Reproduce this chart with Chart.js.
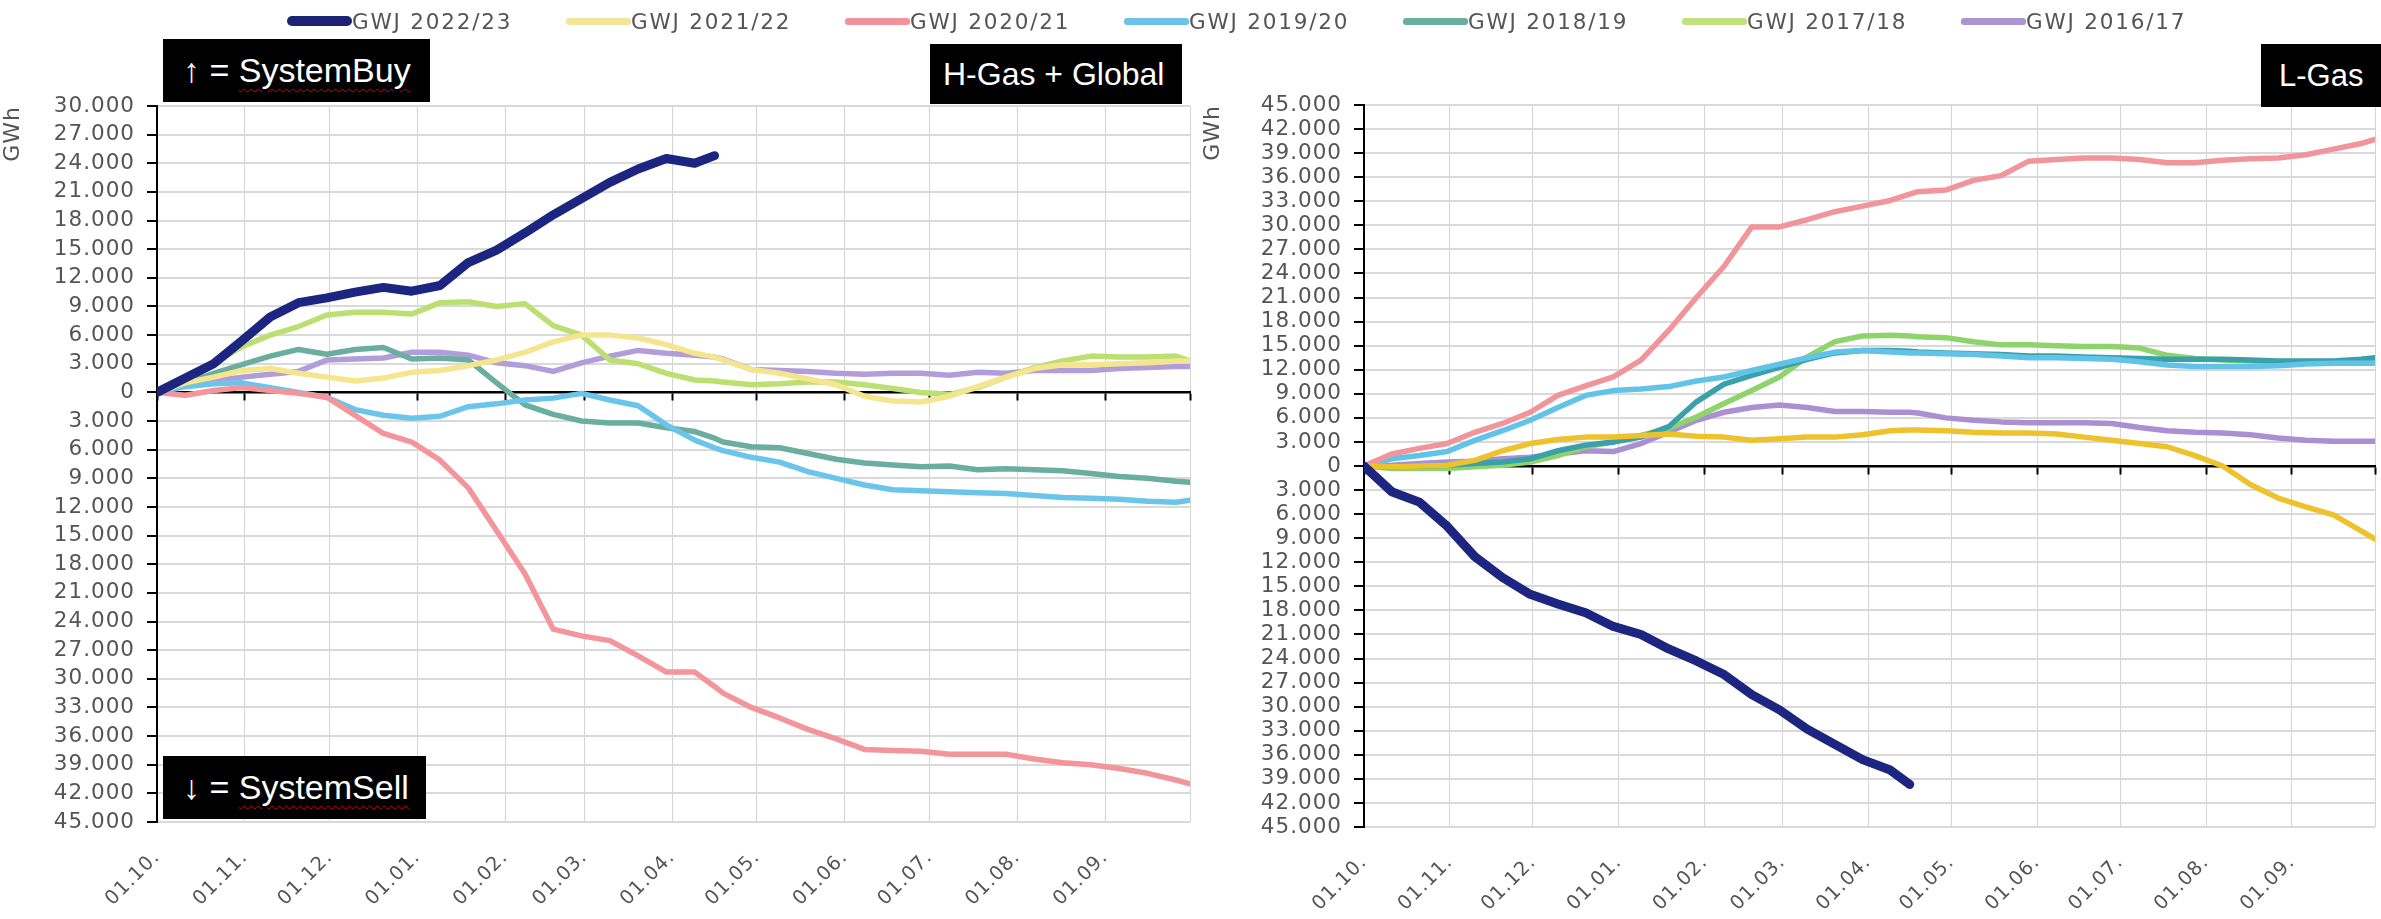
<!DOCTYPE html>
<html>
<head>
<meta charset="utf-8">
<script src="https://cdn.jsdelivr.net/npm/chart.js@4.4.0/dist/chart.umd.min.js"></script>
<style>
    html, body { margin: 0; padding: 0; background: #fff; }
    body { width: 2381px; height: 919px; position: relative; overflow: hidden; font-family: "DejaVu Sans", sans-serif; }
    .panel { position: absolute; top: 0; height: 919px; }
    #left { left: 0; width: 1200px; }
    #right { left: 1200px; width: 1181px; }
    #legend { position: absolute; left: 287px; top: 6px; display: flex; height: 30px; align-items: center; z-index: 2; }
    .item { display: flex; align-items: center; width: 279px; font-size: 21.5px; color: #555; letter-spacing: 1.8px; }
    .swatch { width: 65px; height: 7px; border-radius: 3px; }
    .tag { position: absolute; z-index: 3; background: #000; color: #fff; box-sizing: border-box;
           font-family: "Liberation Sans", Arial, sans-serif; font-size: 34px; display: flex; align-items: center; }
    .wavy { text-decoration: underline wavy #d40000; text-decoration-thickness: 1px; text-underline-offset: 6px; }
</style>
</head>
<body>
<div id="legend"></div>
<div class="panel" id="left"><canvas id="chartH"></canvas></div>
<div class="panel" id="right"><canvas id="chartL"></canvas></div>

<div class="tag" style="left:163px;top:39px;width:267px;height:63px;padding-left:20px;">↑&nbsp;=&nbsp;<span class="wavy">SystemBuy</span></div>
<div class="tag" style="left:930px;top:44px;width:252px;height:60px;padding-left:13px;font-size:32px;">H-Gas + Global</div>
<div class="tag" style="left:163px;top:756px;width:263px;height:63px;padding-left:20px;">↓&nbsp;=&nbsp;<span class="wavy">SystemSell</span></div>
<div class="tag" style="left:2261px;top:44px;width:120px;height:63px;padding-left:18px;font-size:31px;">L-Gas</div>

<script>
// Tage seit 01.10. (Gasjahr), gemeinsame Stützstellen für alle Reihen
const days = [0, 10, 20, 30, 40, 50, 60, 70, 80, 90, 100, 110, 120, 130, 140, 150, 160, 170, 180, 190,
    197, 200, 210, 220, 230, 240, 250, 260, 270, 280, 290, 300, 310, 320, 330, 340, 350, 360, 365];

// Monatsanfänge für Achse
const monthDays = [0, 31, 61, 92, 123, 151, 182, 212, 243, 273, 304, 335, 365];
const monthLabels = ["01.10.", "01.11.", "01.12.", "01.01.", "01.02.", "01.03.", "01.04.", "01.05.",
    "01.06.", "01.07.", "01.08.", "01.09.", ""];

const seriesNames = ["GWJ 2022/23", "GWJ 2021/22", "GWJ 2020/21", "GWJ 2019/20", "GWJ 2018/19", "GWJ 2017/18", "GWJ 2016/17"];

// H-Gas + Global (GWh, + = SystemBuy, - = SystemSell)
const hGas2223 = [0, 1500, 3000, 5400, 7900, 9400, 9900, 10500, 11000, 10600, 11200, 13600, 14900, 16700, 18600, 20300, 22000, 23400, 24500, 24000,
    24800, null, null, null, null, null, null, null, null, null, null, null, null, null, null, null, null, null, null];
const hGas2122 = [0, 1000, 1600, 2300, 2500, 2000, 1600, 1200, 1500, 2100, 2300, 2800, 3400, 4200, 5300, 6000, 6000, 5700, 5000, 4100,
    3700, 3400, 2400, 2000, 1400, 800, -400, -900, -1000, -400, 600, 1600, 2500, 2900, 2900, 3000, 3100, 3300, 3300];
const hGas2021 = [0, -300, 200, 500, 200, -100, -500, -2400, -4300, -5200, -7100, -10000, -14500, -19000, -24800, -25500, -26000, -27600, -29300, -29300,
    -30800, -31500, -33000, -34100, -35300, -36300, -37400, -37500, -37600, -37900, -37900, -37900, -38400, -38800, -39000, -39400, -39900, -40600, -41000];
const hGas1920 = [0, 600, 900, 1000, 500, 0, -500, -1800, -2400, -2700, -2500, -1500, -1200, -800, -600, -100, -800, -1400, -3400, -5000,
    -5800, -6100, -6800, -7300, -8300, -9000, -9700, -10200, -10300, -10400, -10500, -10600, -10800, -11000, -11100, -11200, -11400, -11500, -11300];
const hGas1819 = [0, 900, 2000, 2900, 3800, 4500, 4000, 4500, 4700, 3500, 3600, 3400, 1000, -1300, -2300, -3000, -3200, -3200, -3700, -4100,
    -4800, -5200, -5700, -5800, -6400, -7000, -7400, -7600, -7800, -7700, -8100, -8000, -8100, -8200, -8500, -8800, -9000, -9300, -9400];
const hGas1718 = [0, 1400, 3000, 4800, 6000, 6900, 8100, 8400, 8400, 8200, 9400, 9500, 9000, 9300, 7000, 6000, 3400, 3000, 2000, 1300,
    1200, 1100, 800, 900, 1100, 1100, 800, 400, 0, -200, 500, 1600, 2600, 3300, 3800, 3700, 3700, 3800, 3300];
const hGas1617 = [0, 700, 1200, 1600, 1900, 2200, 3400, 3500, 3600, 4200, 4200, 3900, 3100, 2800, 2200, 3100, 3800, 4400, 4100, 3900,
    3700, 3500, 2400, 2300, 2200, 2000, 1900, 2000, 2000, 1800, 2100, 2000, 2300, 2300, 2300, 2500, 2600, 2700, 2700];

// L-Gas (GWh)
const lGas2223 = [0, -3200, -4500, -7500, -11300, -13900, -16000, -17200, -18300, -20000, -21000, -22800, -24300, -26000, -28500, -30400, -32800, -34700, -36600, -37900,
    -39700, null, null, null, null, null, null, null, null, null, null, null, null, null, null, null, null, null, null];
const lGas2122 = [0, -100, 0, 100, 700, 1900, 2800, 3300, 3600, 3600, 3800, 4000, 3700, 3600, 3200, 3400, 3600, 3600, 3900, 4400,
    4500, 4500, 4400, 4200, 4100, 4100, 4000, 3600, 3200, 2800, 2400, 1300, 0, -2300, -4000, -5100, -6100, -8100, -9100];
const lGas2021 = [0, 1500, 2200, 2800, 4200, 5300, 6700, 8800, 10000, 11100, 13200, 16900, 21000, 24900, 29800, 29800, 30700, 31700, 32400, 33100,
    33900, 34200, 34400, 35600, 36200, 38000, 38200, 38400, 38400, 38200, 37800, 37800, 38100, 38300, 38400, 38800, 39500, 40200, 40700];
const lGas1920 = [0, 900, 1300, 1800, 3200, 4400, 5700, 7300, 8800, 9400, 9600, 9900, 10600, 11100, 11900, 12700, 13500, 14200, 14400, 14200,
    14100, 14100, 14000, 13900, 13700, 13500, 13500, 13400, 13300, 13000, 12600, 12400, 12400, 12400, 12500, 12700, 12800, 12800, 12800];
const lGas1819 = [0, -100, 0, 100, 300, 500, 900, 1900, 2600, 3000, 3600, 4900, 8000, 10200, 11300, 12300, 13300, 14100, 14400, 14400,
    14300, 14200, 14100, 14000, 13900, 13700, 13700, 13600, 13500, 13400, 13300, 13300, 13300, 13200, 13100, 13100, 13100, 13300, 13500];
const lGas1718 = [0, -300, -300, -300, -100, 100, 500, 1300, 2400, 3000, 3800, 4700, 6100, 7800, 9400, 11100, 13600, 15500, 16200, 16300,
    16200, 16100, 16000, 15500, 15100, 15100, 15000, 14900, 14900, 14700, 13800, 13400, 13200, 13100, 13000, 12900, 12900, 13000, 13300];
const lGas1617 = [0, 100, 300, 500, 600, 900, 1100, 1500, 1900, 1800, 2800, 4200, 5700, 6700, 7300, 7600, 7300, 6800, 6800, 6700,
    6700, 6600, 6000, 5700, 5500, 5400, 5400, 5400, 5300, 4800, 4400, 4200, 4100, 3900, 3500, 3200, 3100, 3100, 3100];

const legendColors = ["#1b2372", "#f3e69a", "#f2939c", "#6cc3e6", "#6aaea0", "#c3e07f", "#ab94cf"];
const hColors = ["#1c2580", "#f4e58e", "#f4959b", "#6bc5ea", "#6aae9f", "#bcdf72", "#b29ddb"];
const lColors = ["#1c2580", "#eec22c", "#f2959a", "#62c3e9", "#3aa1ab", "#8fd46a", "#aa90d2"];

const hSeries = [hGas2223, hGas2122, hGas2021, hGas1920, hGas1819, hGas1718, hGas1617];
const lSeries = [lGas2223, lGas2122, lGas2021, lGas1920, lGas1819, lGas1718, lGas1617];

// ====================================================
// Legende (gemeinsam für beide Grafiken)
// ====================================================
const legendBox = document.getElementById("legend");
seriesNames.forEach((name, i) => {
    const item = document.createElement("div");
    item.className = "item";
    const sw = document.createElement("span");
    sw.className = "swatch";
    sw.style.background = legendColors[i];
    if (i === 0) { sw.style.height = "10px"; sw.style.borderRadius = "5px"; }
    const txt = document.createElement("span");
    txt.textContent = name;
    item.appendChild(sw);
    item.appendChild(txt);
    legendBox.appendChild(item);
});

// 30000 -> "30.000", negative ohne Vorzeichen
function fmt(v) {
    return String(Math.abs(v)).replace(/\B(?=(\d{3})+(?!\d))/g, ".");
}

const tickFont = { family: "DejaVu Sans", size: 21.5 };

// etwas Laufweite für die Achsenbeschriftung
const spacing = {
    id: "spacing",
    beforeDraw(chart) { chart.ctx.letterSpacing = "1px"; },
    afterDraw(chart) { chart.ctx.letterSpacing = "0px"; }
};

function monthTicks(scale) {
    scale.ticks = monthDays.map((v) => ({ value: v }));
}

function makeChart(id, series, colors, yMin, yMax, geo) {
    const ctx = document.getElementById(id).getContext("2d");
    return new Chart(ctx, {
        type: "line",
        data: {
            datasets: series.map((vals, i) => ({
                label: seriesNames[i],
                data: days.map((d, k) => ({ x: d, y: vals[k] })).filter((p) => p.y !== null),
                borderColor: colors[i],
                borderWidth: i === 0 ? 9 : 5.5,
                pointRadius: 0,
                tension: 0,
                fill: false,
                borderJoinStyle: "round",
                borderCapStyle: "round",
                xAxisID: "x",
                yAxisID: "y",
            })),
        },
        options: {
            responsive: true,
            maintainAspectRatio: false,
            animation: false,
            devicePixelRatio: 1,
            layout: { padding: { top: geo.top, right: geo.right, left: 0, bottom: 0 } },
            plugins: {
                legend: { display: false },
                tooltip: { enabled: false },
            },
            scales: {
                x: {
                    type: "linear",
                    min: 0,
                    max: 365,
                    afterBuildTicks: monthTicks,
                    afterFit: (s) => {
                        s.height = geo.xHeight;
                        // Diagrammfläche nicht wegen der schrägen Beschriftung verkleinern
                        s.paddingLeft = 0;
                        s.paddingRight = 0;
                    },
                    border: { display: false },
                    grid: { color: "#d4d4d4", lineWidth: 1, drawTicks: false },
                    ticks: {
                        autoSkip: false,
                        minRotation: 45,
                        maxRotation: 45,
                        padding: geo.xPad,
                        color: "#555",
                        font: { family: "DejaVu Sans", size: 19.5 },
                        callback: (v) => monthLabels[monthDays.indexOf(v)],
                    },
                },
                x0: {
                    type: "linear",
                    axis: "x",
                    min: 0,
                    max: 365,
                    position: { y: 0 },
                    afterBuildTicks: monthTicks,
                    border: { display: true, color: "#000", width: 2.5 },
                    grid: { drawOnChartArea: false, drawTicks: true, tickLength: 7, tickColor: "#000", tickWidth: 2 },
                    ticks: { display: false },
                },
                y: {
                    min: yMin,
                    max: yMax,
                    afterFit: (s) => { s.width = geo.yWidth; },
                    border: { display: true, color: "#000", width: 2 },
                    grid: { color: "#d9d9d9", lineWidth: 2, tickColor: "#000", tickLength: 10, tickWidth: 2 },
                    ticks: {
                        stepSize: 3000,
                        autoSkip: false,
                        padding: 12,
                        color: "#555",
                        font: tickFont,
                        callback: (v) => fmt(v),
                    },
                    title: {
                        display: true,
                        text: "GWh",
                        align: "end",
                        color: "#555",
                        font: { family: "DejaVu Sans", size: 22 },
                        padding: { top: 0, bottom: 0 },
                    },
                },
            },
        },
        plugins: [spacing],
    });
}

makeChart("chartH", hSeries, hColors, -45000, 30000, { top: 106, right: 10, yWidth: 157, xHeight: 97, xPad: 24 });
makeChart("chartL", lSeries, lColors, -45000, 45000, { top: 105, right: 6, yWidth: 164, xHeight: 92, xPad: 24 });
</script>
</body>
</html>
